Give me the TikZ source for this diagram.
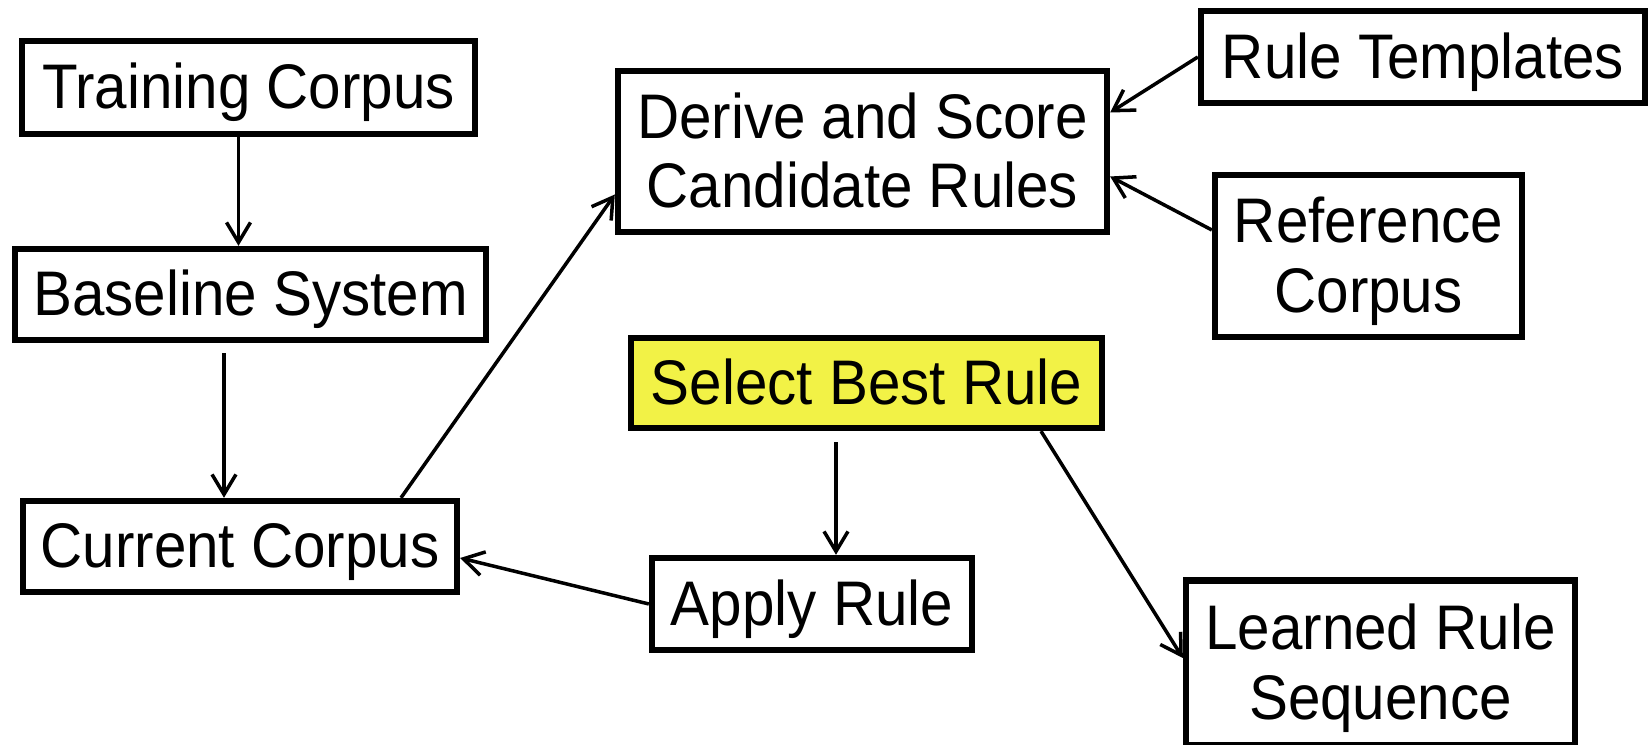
\documentclass[tikz,border=0pt]{standalone}
\usepackage{fontspec}
\setmainfont{Liberation Sans}
\usetikzlibrary{arrows.meta}
\definecolor{bestyellow}{RGB}{242,242,70}
\tikzset{
  box/.style={
    draw,
    line width=1.8pt,
    inner sep=0pt,
    align=center,
    font=\fontsize{16.6}{18.4}\selectfont,
    fill=#1},
  box/.default=white,
  flow/.style={
    line width=1pt,
    -{Straight Barb[length=2mm,width=2.4mm]}},
}
% slightly tall lettering, set a little low, as in the slide
\newcommand{\tall}[1]{\raisebox{-0.075cm}[\height][\depth]{\scalebox{1}[1.08]{\begin{tabular}{@{}c@{}}#1\end{tabular}}}}

\begin{document}
\begin{tikzpicture}
  \useasboundingbox (0,0) rectangle (16.5,7.45);

  % Left column
  \node[box, minimum width=4.53cm, minimum height=0.93cm] (train) at (2.485,6.575) {\tall{Training Corpus}};
  \node[box, minimum width=4.71cm, minimum height=0.91cm] (base) at (2.505,4.505) {\tall{Baseline System}};
  \node[box, minimum width=4.34cm, minimum height=0.91cm] (curr) at (2.40,1.985) {\tall{Current Corpus}};

  % Middle column
  \node[box, minimum width=4.89cm, minimum height=1.61cm] (derive) at (8.625,5.935) {\tall{Derive and Score\\Candidate Rules}};
  \node[box=bestyellow, minimum width=4.71cm, minimum height=0.90cm] (select) at (8.665,3.62) {\tall{Select Best Rule}};
  \node[box, minimum width=3.20cm, minimum height=0.92cm] (apply) at (8.12,1.41) {\tall{Apply Rule}};

  % Right column
  \node[box, minimum width=4.44cm, minimum height=0.92cm] (templ) at (14.23,6.88) {\tall{Rule Templates}};
  \node[box, minimum width=3.07cm, minimum height=1.62cm] (refc) at (13.685,4.89) {\tall{Reference\\Corpus}};
  \node[box, minimum width=3.89cm, minimum height=1.65cm] (learned) at (13.805,0.82) {\tall{Learned Rule\\Sequence}};

  % Arrows
  \draw[flow] ([xshift=-0.1cm]train.south) -- ([xshift=-0.1cm]train.south |- base.north);
  \draw[flow] ([xshift=-0.265cm,yshift=-0.1cm]base.south) -- ([xshift=-0.16cm]curr.north);
  \draw[flow] ([xshift=1.61cm]curr.north) -- ([yshift=-0.43cm]derive.west);
  \draw[flow] (templ.west) -- ([yshift=0.39cm]derive.east);
  \draw[flow] ([yshift=0.26cm]refc.west) -- ([yshift=-0.25cm]derive.east);
  \draw[flow] ([xshift=-0.305cm,yshift=-0.11cm]select.south) -- ([xshift=0.24cm]apply.north);
  \draw[flow] (apply.west) -- ([yshift=-0.115cm]curr.east);
  \draw[flow] ([xshift=1.745cm]select.south) -- ([yshift=0.05cm]learned.west);
\end{tikzpicture}
\end{document}
